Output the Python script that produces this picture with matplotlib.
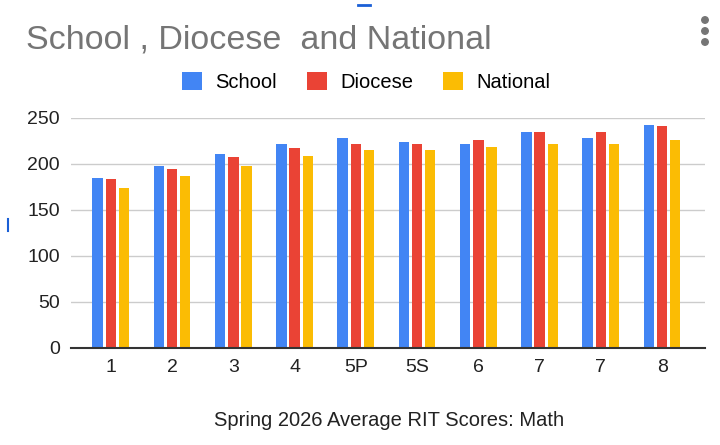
import numpy as np
import matplotlib.pyplot as plt
from matplotlib.patches import Ellipse
from matplotlib.lines import Line2D

# Data
grades = ["1", "2", "3", "4", "5P", "5S", "6", "7", "7", "8"]
school = [185, 198, 211, 222, 228, 224, 222, 235, 228, 242]
diocese = [184, 195, 208, 217, 222, 222, 226, 235, 235, 241]
national = [174, 187, 198, 209, 215, 215, 218, 222, 222, 226]

series = [("School", school, "#4285F4"),
          ("Diocese", diocese, "#EA4335"),
          ("National", national, "#FBBC04")]

plt.rcParams['font.family'] = ['Liberation Sans', 'DejaVu Sans']

W, H = 720, 445
fig = plt.figure(figsize=(7.2, 4.45), dpi=100)
ax = fig.add_axes([71 / W, 1 - 348 / H, 634 / W, 230 / H])

x = np.arange(len(grades))
width = 0.17
step = 0.215
handles = []
for i, (name, vals, color) in enumerate(series):
    b = ax.bar(x + (i - 1) * step, vals, width, color=color, label=name, zorder=3)
    handles.append(b)

ax.set_ylim(0, 250)
ax.set_xlim(-0.65, 9.7)
ax.set_yticks([0, 50, 100, 150, 200, 250])
ax.set_xticks(x)
ax.set_xticklabels(grades)
ax.tick_params(length=0, labelsize=14, colors="#222222")
ax.tick_params(axis="x", pad=8)
ax.tick_params(axis="y", pad=8)
ax.grid(axis="y", color="#cccccc", linewidth=1, zorder=0)
for s in ["top", "right", "left"]:
    ax.spines[s].set_visible(False)
ax.spines["bottom"].set_color("#333333")
ax.spines["bottom"].set_linewidth(1.5)
ax.spines["bottom"].set_zorder(4)

fig.text(389 / W, 1 - 420 / H, "Spring 2026 Average RIT Scores: Math",
         fontsize=14.5, color="#222222", ha="center", va="center")

fig.text(0.036, 0.91, "School , Diocese  and National", fontsize=24.5,
         color="#757575", va="center", ha="left")

# menu dots
for yy in [20, 31, 42]:
    fig.add_artist(Ellipse((705 / W, 1 - yy / H), 6.5 / W, 6.5 / H,
                           transform=fig.transFigure, color="#757575"))
# small blue screen marks
fig.add_artist(Line2D([358 / W, 370 / W], [1 - 5 / H, 1 - 5 / H],
                      transform=fig.transFigure, color="#1a5fd6", lw=2))
fig.add_artist(Line2D([8 / W, 8 / W], [1 - 219 / H, 1 - 231 / H],
                      transform=fig.transFigure, color="#1a5fd6", lw=1.5))

fig.legend(handles=handles, loc="center", bbox_to_anchor=(366 / W, 1 - 82 / H),
           ncol=3, frameon=False, fontsize=14.5, handlelength=1.0,
           handleheight=1.0, columnspacing=1.5, handletextpad=0.65,
           borderpad=0)

fig.savefig("out.png", dpi=100)
